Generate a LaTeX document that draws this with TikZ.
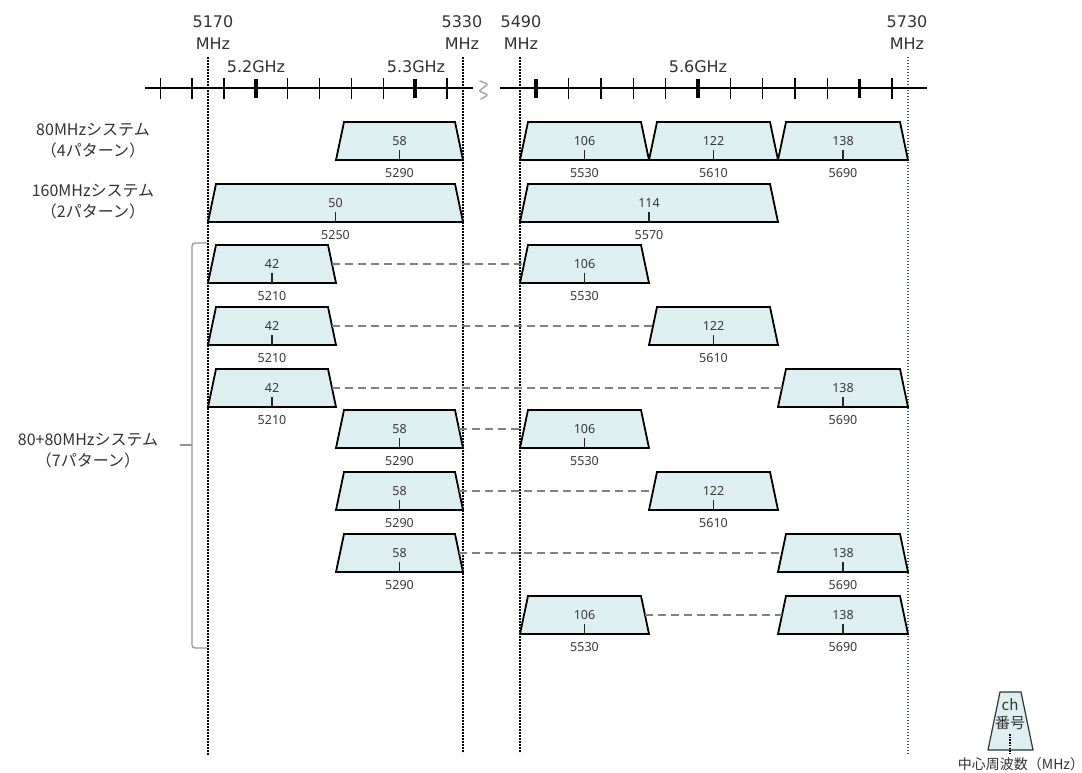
\documentclass[tikz,border=0pt]{standalone}
\usepackage{fontspec}
\setmainfont{DejaVu Sans}
\newfontfamily\jp{Noto Sans CJK JP}
\newfontfamily\numf{Noto Sans}
\definecolor{bandfill}{RGB}{222,239,242}
\definecolor{txt}{RGB}{50,50,50}
\definecolor{numc}{RGB}{55,55,55}
\definecolor{vgreen}{RGB}{45,100,65}
\definecolor{dashc}{RGB}{130,130,130}
\definecolor{brk}{RGB}{150,150,150}
\newcommand\band[6]{%
  \pgfmathsetmacro\bw{#3-#2}%
  \pgfmathsetmacro\bx{(#2+#3)/2}%
  \pgfmathsetmacro\by{#4+19}%
  \pgfmathsetmacro\bb{#4+38}%
  \pgfmathsetmacro\xa{#2+8}%
  \pgfmathsetmacro\xb{#3-8}%
  \filldraw[bandline] (#2,\bb) -- (\xa,#4) -- (\xb,#4) -- (#3,\bb) -- cycle;
  \node[bandbox, minimum width=\bw pt] (#1) at (\bx,\by) {#5};
  \draw[chtick] (#1.south) -- ++(0,-10);
  \node[flabel] (#1-f) at ([yshift=-13pt]#1.south) {#6};
}
\begin{document}
\begin{tikzpicture}[x=1pt,y=-1pt,
  bandline/.style={draw=black, fill=bandfill, line width=1.8pt, line join=miter},
  bandbox/.style={rectangle, draw=none, inner sep=0pt, minimum height=38pt, font=\numf\fontsize{12.5}{14}\selectfont, text=numc},
  flabel/.style={inner sep=0pt, font=\numf\fontsize{12.5}{14}\selectfont, text=numc},
  chtick/.style={line width=1.4pt, draw=black!85},
  conn/.style={draw=dashc, line width=1.6pt, dash pattern=on 8pt off 5pt},
  vdot/.style={draw=black, line width=1.6pt, dash pattern=on 1.6pt off 1.4pt},
  vdotg/.style={draw=vgreen, line width=1.4pt, dash pattern=on 1.4pt off 1.6pt},
  toplab/.style={align=center, inner sep=0pt, text=txt, font=\fontsize{16}{22}\selectfont},
  ghz/.style={inner sep=0pt, text=txt, font=\fontsize{16}{18}\selectfont},
  grouplab/.style={align=center, inner sep=0pt, text=txt, font=\jp\fontsize{16}{21}\selectfont},
  thin/.style={line width=1.3pt, draw=black},
  thick/.style={line width=3.6pt, draw=black},
]
\useasboundingbox (0,0) rectangle (1082,772);

% vertical reference lines
\coordinate (v1t) at (208,57); \coordinate (v1b) at (208,755);
\coordinate (v2t) at (463,57); \coordinate (v2b) at (463,753);
\coordinate (v3t) at (520,57); \coordinate (v3b) at (520,753);
\coordinate (v4t) at (908,57); \coordinate (v4b) at (908,755);
\draw[vdot] (v1t) -- (v1b);
\draw[vdot] (v2t) -- (v2b);
\draw[vdot] (v3t) -- (v3b);
\draw[vdotg] (v4t) -- (v4b);

% top labels
\node[toplab] (l5170) at (213,33) {5170\\MHz};
\node[toplab] (l5330) at (462,33) {5330\\MHz};
\node[toplab] (l5490) at (521,33) {5490\\MHz};
\node[toplab] (l5730) at (907,33) {5730\\MHz};
\node[ghz] (g52) at (256,67) {5.2GHz};
\node[ghz] (g53) at (416,67) {5.3GHz};
\node[ghz] (g56) at (698,67) {5.6GHz};

% axis
\draw[line width=2pt] (145,88) -- (473,88);
\draw[line width=2pt] (500,88) -- (927,88);
\foreach \f in {5140,5160,5180,5220,5240,5260,5280,5320} {
  \pgfmathsetmacro\xx{208+(\f-5170)*1.594}
  \draw[thin] (\xx,78) -- (\xx,99);
}
\foreach \f in {5200,5300} {
  \pgfmathsetmacro\xx{208+(\f-5170)*1.594}
  \draw[thick] (\xx,79) -- (\xx,98);
}
\foreach \f in {5520,5540,5560,5580,5620,5640,5660,5680,5720} {
  \pgfmathsetmacro\xx{520+(\f-5490)*1.617}
  \draw[thin] (\xx,78) -- (\xx,99);
}
\foreach \f in {5500,5600,5700} {
  \pgfmathsetmacro\xx{520+(\f-5490)*1.617}
  \draw[thick] (\xx,79) -- (\xx,98);
}
% break mark
\draw[gray!65, line width=1.6pt, rounded corners=2pt, line cap=round]
  (480,81) -- (488,84) -- (479,91) -- (488,95) -- (481,99);

% group labels
\node[grouplab] (g80) at (93,141) {80MHzシステム\\（4パターン）};
\node[grouplab] (g160) at (93,202) {160MHzシステム\\（2パターン）};
\node[grouplab] (g8080) at (88,451) {80+80MHzシステム\\（7パターン）};
\coordinate (bk) at (192,445);
\coordinate (bkt) at (207,243);
\coordinate (bkb) at (207,648);
\draw[brk, line width=1.3pt, rounded corners=3pt] (bkt) -| (bk) |- (bkb);
\draw[brk, line width=1.3pt] (bk) -- ++(-12,0);

% 80 MHz system
\band{r1a}{336}{463}{122}{58}{5290}
\band{r1b}{520}{649}{122}{106}{5530}
\band{r1c}{649}{778}{122}{122}{5610}
\band{r1d}{778}{908}{122}{138}{5690}
% 160 MHz system
\band{r2a}{208}{463}{184}{50}{5250}
\band{r2b}{520}{778}{184}{114}{5570}
% 80+80 MHz system
\band{aL}{208}{336}{245}{42}{5210}
\band{aR}{520}{649}{245}{106}{5530}
\band{bL}{208}{336}{307}{42}{5210}
\band{bR}{649}{778}{307}{122}{5610}
\band{cL}{208}{336}{369}{42}{5210}
\band{cR}{778}{908}{369}{138}{5690}
\band{dL}{336}{463}{410}{58}{5290}
\band{dR}{520}{649}{410}{106}{5530}
\band{eL}{336}{463}{472}{58}{5290}
\band{eR}{649}{778}{472}{122}{5610}
\band{fL}{336}{463}{534}{58}{5290}
\band{fR}{778}{908}{534}{138}{5690}
\band{gL}{520}{649}{596}{106}{5530}
\band{gR}{778}{908}{596}{138}{5690}
\foreach \r in {a,b,c,d,e,f,g} {
  \draw[conn] ([xshift=-4pt]\r L.east) -- ([xshift=4pt]\r R.west);
}

% legend
\filldraw[draw=black!80, fill=bandfill, line width=1.2pt] (988,750) -- (1000,692) -- (1021,692) -- (1033,750) -- cycle;
\node[inner sep=0pt, text=txt, font=\jp\fontsize{15}{17}\selectfont] (lch) at (1010,705) {ch};
\node[inner sep=0pt, text=txt, font=\jp\fontsize{15}{17}\selectfont] (lno) at (1010,723) {番号};
\coordinate (ltk) at (1010,734);
\coordinate (ltb) at (1010,753);
\draw[line width=1.4pt, dash pattern=on 1.5pt off 1.2pt] (ltk) -- (ltb);
\node[inner sep=0pt, text=txt, font=\jp\fontsize{14}{16}\selectfont] (lfr) at (1021,764) {中心周波数（MHz）};
\end{tikzpicture}
\end{document}
